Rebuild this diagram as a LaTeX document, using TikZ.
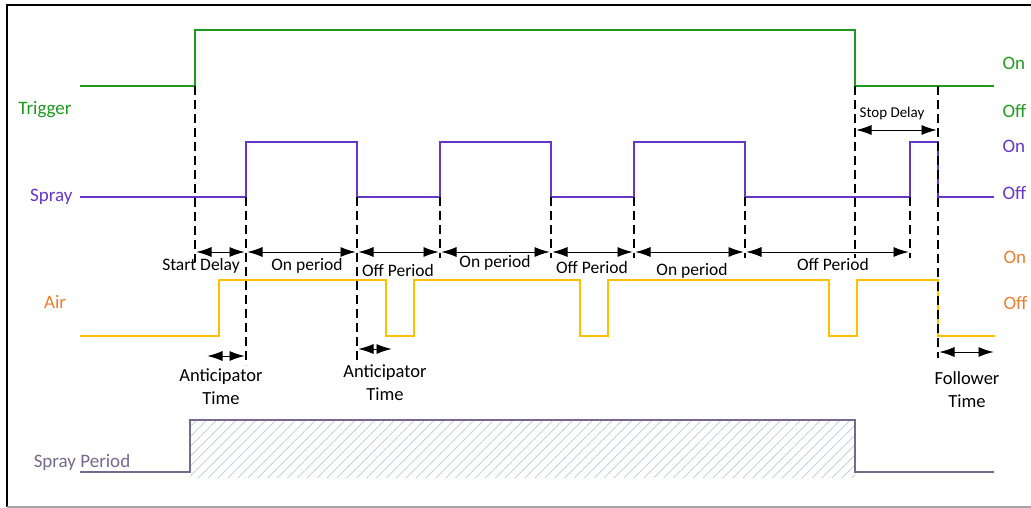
\documentclass[tikz,border=0pt]{standalone}
\usepackage{fontspec}
\setmainfont{Carlito}
\usepackage{xcolor}
\usetikzlibrary{arrows.meta,patterns.meta}

\definecolor{trigcol}{HTML}{1F9A1F}
\definecolor{spraycol}{HTML}{6636C6}
\definecolor{aircol}{HTML}{FFC000}
\definecolor{airtxt}{HTML}{ED7D31}
\definecolor{percol}{HTML}{76688E}
\definecolor{hatchcol}{HTML}{C2C6DE}

\begin{document}
\begin{tikzpicture}[x=1pt,y=-1pt,
    sig/.style={line width=1.6pt},
    guide/.style={line width=1.7pt, dash pattern=on 9pt off 5pt},
    span/.style={{Latex[length=15pt,width=10pt]}-{Latex[length=15pt,width=10pt]},
      line width=0.8pt, shorten <=1.5pt, shorten >=1.5pt},
    lbl/.style={font=\fontsize{19}{22}\selectfont},
    per/.style={font=\fontsize{17.5}{20}\selectfont},
    tim/.style={font=\fontsize{18.5}{23}\selectfont, align=center}]
    \useasboundingbox (0,0) rectangle (1031,508);
    % frame
    \draw[line width=2.5pt] (7,507) -- (7,5) -- (1031,5);
    \draw[black!35, line width=1.5pt] (7,507) -- (1031,507);

    % spray period (hatched)
    \fill[pattern={Lines[angle=45, distance=7pt, line width=0.7pt]}, pattern color=hatchcol]
        (190,420) rectangle (855,477);
    \draw[sig, percol] (80,472) -| (190,420) -| (855,472) -- (994,472);

    % signals
    \draw[sig, trigcol] (80,86) -| (195,30) -| (855,86) -- (994,86);
    \draw[sig, spraycol] (80,197) -| (246,142) -| (357,197) -| (440,142) -| (551,197)
        -| (634,142) -| (745,197) -| (910,142) -| (938,197) -- (994,197);
    \draw[sig, aircol] (80,336) -| (219,280) -| (386,336) -| (414,280) -| (580,336)
        -| (608,280) -| (829,336) -| (857,280) -| (938,336) -- (995,336);

    % guide lines
    \draw[guide] (195,86) -- (195,262);
    \draw[guide] (246,197) -- (246,365);
    \draw[guide] (357,197) -- (357,365);
    \foreach \x in {440,551,634,745,910}
        \draw[guide] (\x,197) -- (\x,258);
    \draw[guide] (855,86) -- (855,258);
    \draw[guide] (938,86) -- (938,358);

    % spans
    \foreach \n/\x in {a/195,b/246,c/357,d/440,e/551,f/634,g/745,h/910}
        \coordinate (p\n) at (\x,252);
    \draw[span] (pa) -- (pb);
    \draw[span] (pb) -- (pc);
    \draw[span] (pc) -- (pd);
    \draw[span] (pd) -- (pe);
    \draw[span] (pe) -- (pf);
    \draw[span] (pf) -- (pg);
    \draw[span] (pg) -- (ph);
    \coordinate (sa) at (855,130);
    \coordinate (sb) at (938,130);
    \draw[span] (sa) -- (sb);
    \coordinate (aa) at (206,356);
    \coordinate (ab) at (246,356);
    \draw[span] (aa) -- (ab);
    \coordinate (ac) at (357,349);
    \coordinate (ad) at (393,349);
    \draw[span] (ac) -- (ad);
    \coordinate (fa) at (938,352);
    \coordinate (fb) at (995,352);
    \draw[span] (fa) -- (fb);

    % signal names
    \node[lbl, trigcol] (trig) at (45,110) {Trigger};
    \node[lbl, spraycol, anchor=east] (spray) at (76,197) {Spray};
    \node[lbl, airtxt] (air) at (55,302) {Air};
    \node[lbl, percol] (sper) at (82,462) {Spray Period};
    \node[lbl, trigcol, anchor=west] (on1) at (999,63) {On};
    \node[lbl, trigcol, anchor=west] (off1) at (999,111) {Off};
    \node[lbl, spraycol, anchor=west] (on2) at (999,146) {On};
    \node[lbl, spraycol, anchor=west] (off2) at (999,193) {Off};
    \node[lbl, airtxt, anchor=west] (on3) at (1000,257) {On};
    \node[lbl, airtxt, anchor=west] (off3) at (1000,303) {Off};

    % period names
    \node[per] (sd) at (201,266) {Start Delay};
    \node[per] (on4) at (307,266) {On period};
    \node[per] (of4) at (398,270) {Off Period};
    \node[per] (on5) at (495,263) {On period};
    \node[per] (of5) at (592,267) {Off Period};
    \node[per] (on6) at (692,271) {On period};
    \node[per] (of6) at (833,264) {Off Period};
    \node[font=\fontsize{15}{18}\selectfont] (stop) at (892,114) {Stop Delay};
    \node[tim] (ant1) at (221,387) {Anticipator\\Time};
    \node[tim] (ant2) at (385,383) {Anticipator\\Time};
    \node[tim] (fol) at (967,390) {Follower\\Time};
\end{tikzpicture}
\end{document}
